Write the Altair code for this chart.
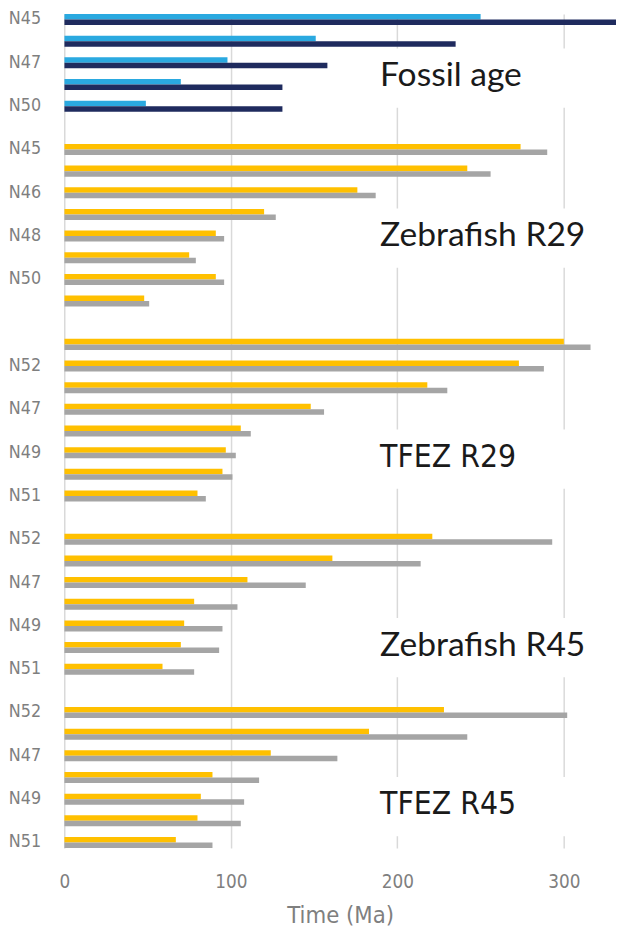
import altair as alt
import pandas as pd

# ---------------- data ----------------
groups = ["Fossil age", "Zebrafish R29", "TFEZ R29", "Zebrafish R45", "TFEZ R45"]

fossil_rows = ["N45", "N46", "N47", "N48", "N50"]
r29_rows = ["N45", "N52", "N46", "N47", "N48", "N49", "N50", "N51"]
r45_rows = ["N52", "N46", "N47", "N48", "N49", "N50", "N51"]

fossil_a = [250, 151, 98, 70, 49]
fossil_b = [345, 235, 158, 131, 131]
zr29_a = [274, 242, 176, 120, 91, 75, 91, 48]
zr29_b = [290, 256, 187, 127, 96, 79, 96, 51]
tr29_a = [300, 273, 218, 148, 106, 97, 95, 80]
tr29_b = [316, 288, 230, 156, 112, 103, 101, 85]
zr45_a = [221, 161, 110, 78, 72, 70, 59]
zr45_b = [293, 214, 145, 104, 95, 93, 78]
tr45_a = [228, 183, 124, 89, 82, 80, 67]
tr45_b = [302, 242, 164, 117, 108, 106, 89]

tick_values = [0, 100, 200, 300]

group_rows = [fossil_rows, r29_rows, r29_rows, r45_rows, r45_rows]
series_a = [fossil_a, zr29_a, tr29_a, zr45_a, tr45_a]
series_b = [fossil_b, zr29_b, tr29_b, zr45_b, tr45_b]
palette_kind = ["fossil", "est", "est", "est", "est"]

keys = []
records = []
slot = 0
for gi, g in enumerate(groups):
    if gi > 0:
        keys.append(f"{slot:02d}|")
        slot += 1
    for ri, name in enumerate(group_rows[gi]):
        label = name if slot % 2 == 0 else ""
        key = f"{slot:02d}|{label}"
        keys.append(key)
        records.append(dict(key=key, group=g, row=name, series="a",
                            value=series_a[gi][ri], ck=palette_kind[gi] + "_a"))
        records.append(dict(key=key, group=g, row=name, series="b",
                            value=series_b[gi][ri], ck=palette_kind[gi] + "_b"))
        slot += 1

df = pd.DataFrame(records)

# ---------------- styling ----------------
NARROW = "DejaVu Sans Condensed"
CALIBRI_LIKE = "Lato"
AXIS_GRAY = "#7F7F7F"
W, H = 559, 845
XMAX = 331.3

bars = alt.Chart(df).mark_bar(clip=True).encode(
    x=alt.X("value:Q",
            scale=alt.Scale(domain=[0, XMAX], nice=False, zero=True),
            axis=alt.Axis(values=tick_values, grid=True, gridColor="#D9D9D9",
                          gridWidth=1.5, domain=False, ticks=False, tickSize=0,
                          labelFlush=False, labelFont=NARROW, labelFontSize=19,
                          labelColor=AXIS_GRAY, labelPadding=25,
                          title="Time (Ma)", titleFont=NARROW, titleFontSize=24,
                          titleFontWeight="normal", titleColor=AXIS_GRAY,
                          titlePadding=12)),
    y=alt.Y("key:N",
            scale=alt.Scale(domain=keys, paddingInner=0.49, paddingOuter=0.001,
                            round=False),
            axis=alt.Axis(labelExpr="split(datum.value, '|')[1]", title=None,
                          ticks=False, tickSize=0, domain=False, grid=False,
                          labelOverlap=False, labelFont=NARROW, labelFontSize=18,
                          labelColor=AXIS_GRAY, labelPadding=24)),
    yOffset=alt.YOffset("series:N",
                        scale=alt.Scale(domain=["a", "b"], paddingInner=0.001,
                                        paddingOuter=0.001)),
    color=alt.Color("ck:N",
                    scale=alt.Scale(domain=["fossil_a", "fossil_b", "est_a", "est_b"],
                                    range=["#2AA9E0", "#1F2B5E", "#FFC000", "#A5A5A5"]),
                    legend=None),
)

# annotation text boxes (white boxes hide the gridlines like the original text boxes)
anno = [
    ("Fossil age", CALIBRI_LIKE, 34, 63),
    ("Zebrafish R29", CALIBRI_LIKE, 34, 225),
    ("TFEZ R29", NARROW, 32, 449),
    ("Zebrafish R45", CALIBRI_LIKE, 34, 640),
    ("TFEZ R45", NARROW, 32, 801),
]
one = pd.DataFrame({"k": [0]})
boxes = []
texts = []
for txt, fnt, fs, yc in anno:
    boxes.append(alt.Chart(one).mark_rect(color="white").encode(
        x=alt.value(310), x2=alt.value(535),
        y=alt.value(yc - 28), y2=alt.value(yc + 32)))
    texts.append(alt.Chart(one).mark_text(
        text=txt, font=fnt, fontSize=fs, color="#1A1A1A",
        align="left", baseline="middle").encode(
        x=alt.value(320), y=alt.value(yc)))

chart = alt.layer(*boxes, bars, *texts).properties(
    width=W, height=H,
    autosize=alt.AutoSizeParams(type="none"),
    padding={"left": 57, "top": 0, "right": 0, "bottom": 79},
    background="white",
).configure_view(stroke=None).configure_scale(
    bandPaddingInner=0.49, bandPaddingOuter=0.001,
    bandWithNestedOffsetPaddingInner=0.49,
    bandWithNestedOffsetPaddingOuter=0.001,
    offsetBandPaddingInner=0.001, offsetBandPaddingOuter=0.001,
)

chart.save("out.html", embed_options={"renderer": "svg", "actions": False})
